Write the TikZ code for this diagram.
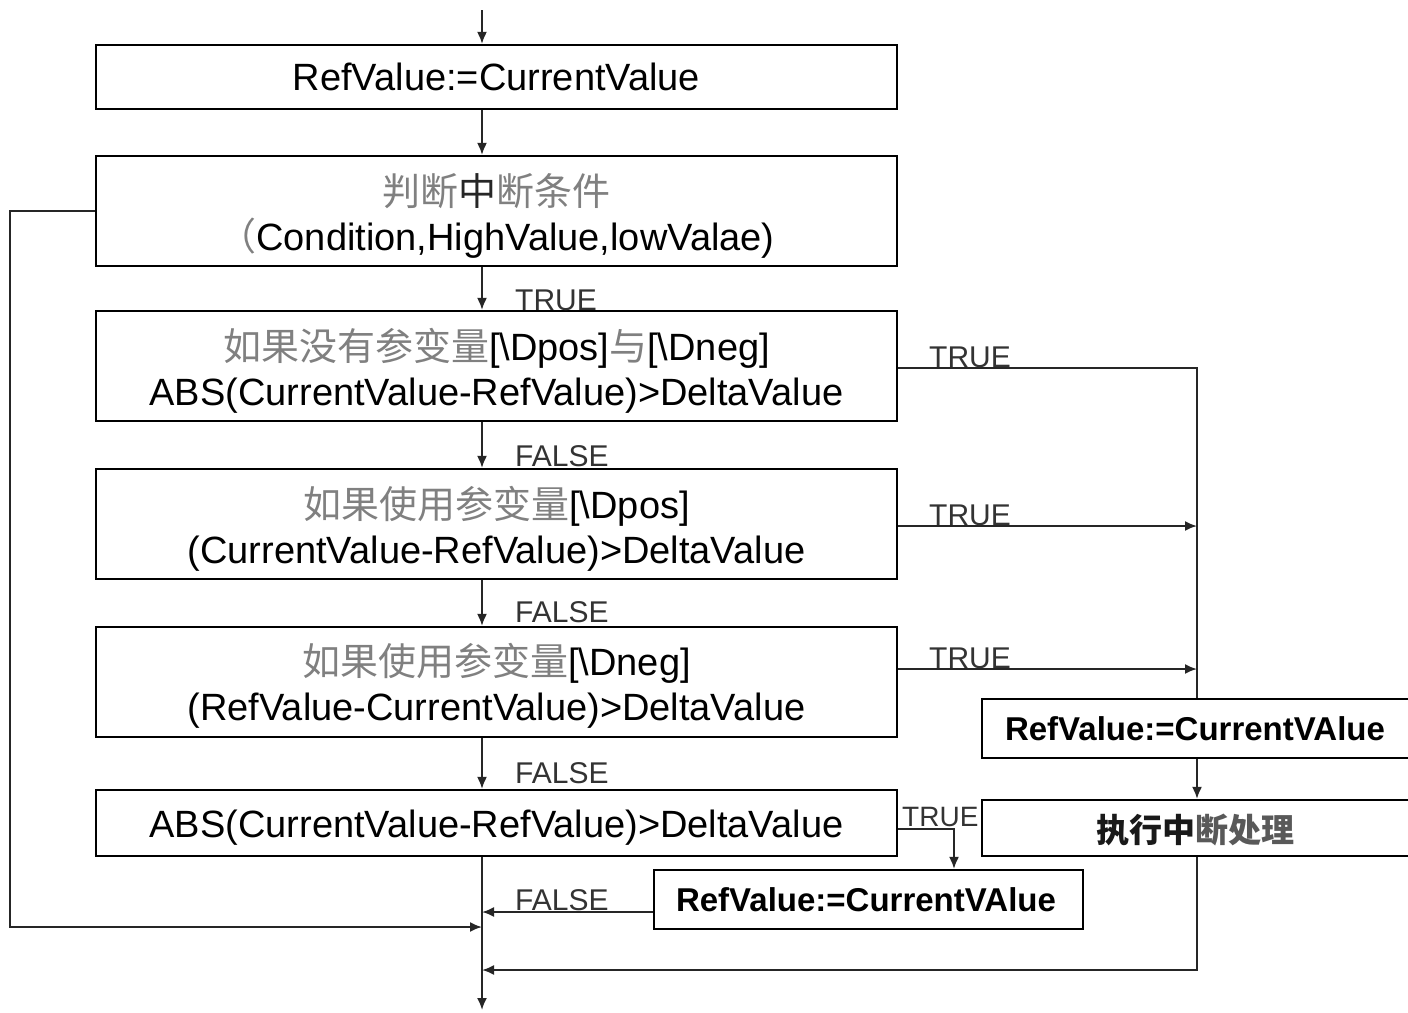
\documentclass[tikz,border=0pt]{standalone}
\usepackage{fontspec}
\setmainfont{Liberation Sans}
\newfontfamily\cjk{Noto Sans CJK SC}
\usetikzlibrary{arrows.meta}
\newcommand\zhg[1]{{\cjk\color{black!50}#1}}
\begin{document}
\begin{tikzpicture}[x=1pt,y=-1pt,
  box/.style={draw, line width=2.2pt, inner sep=0pt, minimum width=801pt},
  mtext/.style={inner sep=0pt, align=center, font=\fontsize{38}{45}\selectfont},
  btext/.style={inner sep=0pt, font=\fontsize{33}{38}\selectfont\bfseries},
  conn/.style={line width=1.9pt, draw=black!85},
  arr/.style={conn, -{Latex[length=12pt,width=10pt]}},
  lbl/.style={inner sep=0pt, anchor=base west, text=black!80, font=\fontsize{30}{30}\selectfont}]
\useasboundingbox (0,0) rectangle (1408,1012);
\clip (0,0) rectangle (1408,1012);

% main boxes
\node[box, minimum height=64pt] (b1) at (496.5,77) {};
\node[mtext] (t1) at (496.5,77) {RefValue:=CurrentValue};
\node[box, minimum height=110pt] (b2) at (496.5,211) {};
\node[mtext] (t2) at (496.5,216) {\zhg{判断}{\cjk\color{black!85}中}\zhg{断条件}\\\zhg{（}Condition,HighValue,lowValae)};
\node[box, minimum height=110pt] (b3) at (496.5,366) {};
\node[mtext] (t3) at (496.5,371) {\zhg{如果没有参变量}[\textbackslash Dpos]\zhg{与}[\textbackslash Dneg]\\ABS(CurrentValue-RefValue)>DeltaValue};
\node[box, minimum height=110pt] (b4) at (496.5,524) {};
\node[mtext] (t4) at (496.5,529) {\zhg{如果使用参变量}[\textbackslash Dpos]\\(CurrentValue-RefValue)>DeltaValue};
\node[box, minimum height=110pt] (b5) at (496.5,682) {};
\node[mtext] (t5) at (496.5,686) {\zhg{如果使用参变量}[\textbackslash Dneg]\\(RefValue-CurrentValue)>DeltaValue};
\node[box, minimum height=66pt] (b6) at (496.5,823) {};
\node[mtext] (t6) at (496.5,828) {ABS(CurrentValue-RefValue)>DeltaValue};

% right boxes
\node[box, minimum width=448pt, minimum height=59pt] (b7) at (1206,728.5) {};
\node[btext] (t7) at (1195,728.5) {RefValue:=CurrentVAlue};
\node[box, minimum width=448pt, minimum height=56pt] (b8) at (1206,828) {};
\node[inner sep=0pt, font=\fontsize{33}{38}\selectfont] (t8) at (1195,830) {{\cjk\bfseries\color{black!90}执行中}{\cjk\bfseries\color{black!65}断处理}};
\node[box, minimum width=429pt, minimum height=59pt] (b9) at (868.5,899.5) {};
\node[btext] (t9) at (866,900) {RefValue:=CurrentVAlue};

% coordinates
\coordinate (top) at (482,10);
\coordinate (bot) at (482,1010);
\coordinate (rx) at (1197,0);
\coordinate (tx) at (954,0);
\coordinate (lx) at (10,0);
\coordinate (j1) at (10,927);
\coordinate (j2) at (1197,970);
\coordinate (e3) at ([yshift=-2pt]b3.east);
\coordinate (e4) at ([yshift=-2pt]b4.east);
\coordinate (e5) at ([yshift=13pt]b5.east);
\coordinate (e6) at ([yshift=-6pt]b6.east);
\coordinate (e9) at ([yshift=-12.5pt]b9.west);

% main spine
\draw[arr] (top) -- (top |- b1.north);
\draw[arr] (top |- b1.south) -- (top |- b2.north);
\draw[arr] (top |- b2.south) -- (top |- b3.north);
\draw[arr] (top |- b3.south) -- (top |- b4.north);
\draw[arr] (top |- b4.south) -- (top |- b5.north);
\draw[arr] (top |- b5.south) -- (top |- b6.north);
\draw[arr] (top |- b6.south) -- (bot);

% loop back
\draw[arr] (b2.west) -- (lx |- b2.west) -- (j1) -- (top |- j1);

% right side
\draw[conn] (e3) -| (rx |- b7.north);
\draw[arr] (e4) -- (rx |- e4);
\draw[arr] (e5) -- (rx |- e5);
\draw[arr] (rx |- b7.south) -- (rx |- b8.north);
\draw[arr] (rx |- b8.south) -- (j2) -- (top |- j2);
\draw[arr] (e6) -| (tx |- b9.north);
\draw[arr] (e9) -- (top |- e9);

% labels
\node[lbl] (lt1) at (515,310) {TRUE};
\node[lbl] (lf1) at (515,466) {FALSE};
\node[lbl] (lf2) at (515,622) {FALSE};
\node[lbl] (lf3) at (515,783) {FALSE};
\node[lbl] (lf4) at (515,910) {FALSE};
\node[lbl] (lt2) at (929,367) {TRUE};
\node[lbl] (lt3) at (929,525) {TRUE};
\node[lbl] (lt4) at (929,668) {TRUE};
\node[lbl, font=\fontsize{28}{28}\selectfont] (lt5) at (902,826) {TRUE};
\end{tikzpicture}
\end{document}
